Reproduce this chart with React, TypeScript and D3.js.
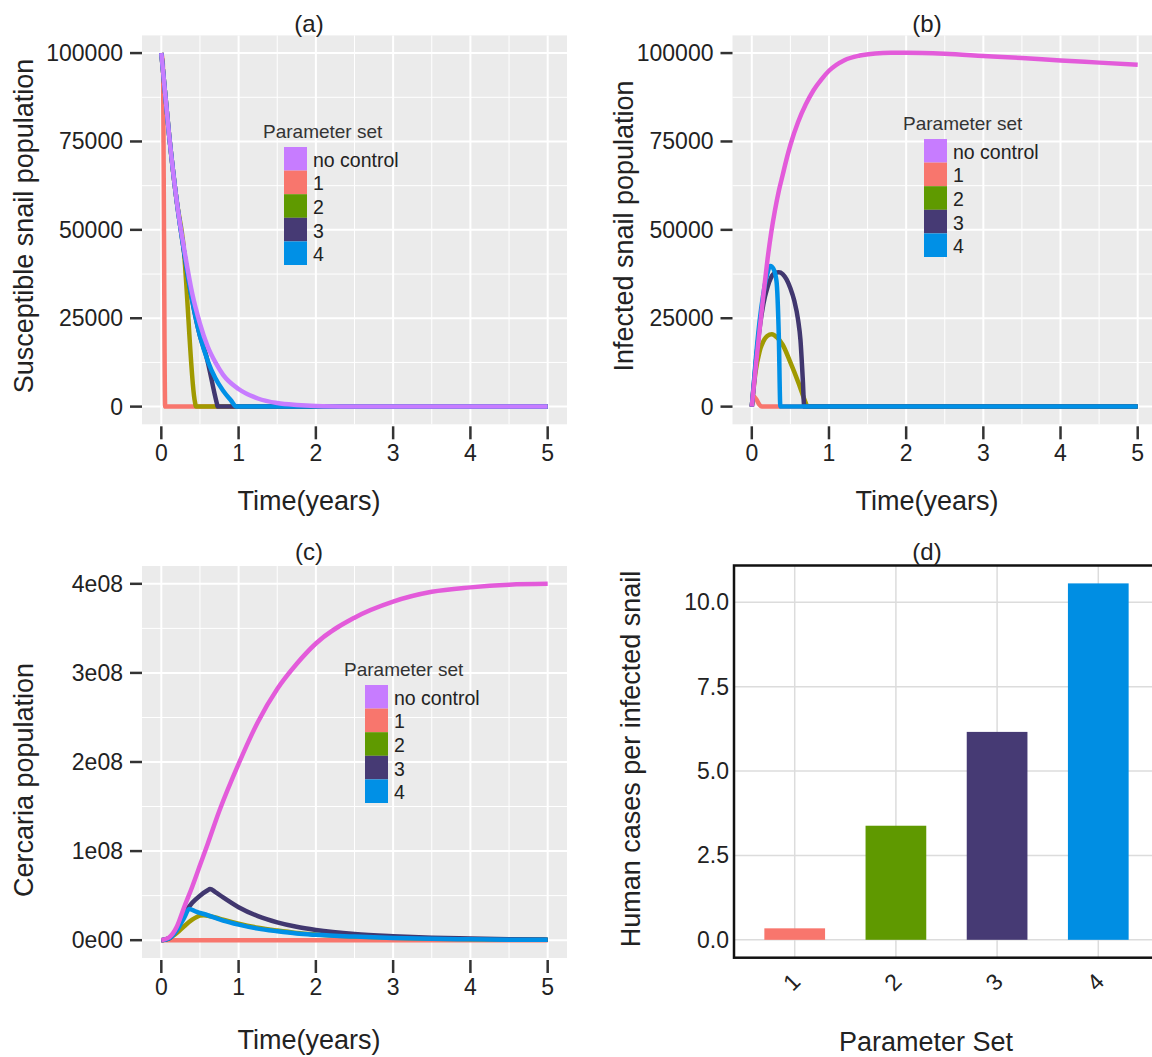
import * as d3 from "d3";

// ---- data ----
const legendLabels = ["no control", "1", "2", "3", "4"];
const legendColors = ["#C77CFF", "#F8766D", "#5F9A00", "#463A74", "#0090E6"];

const xTicks = [0, 1, 2, 3, 4, 5];
const snailTicks = [0, 25000, 50000, 75000, 100000];
const cercariaTicks = [0, 1e8, 2e8, 3e8, 4e8];
const cercariaTickLabels = ["0e00", "1e08", "2e08", "3e08", "4e08"];

// (a) susceptible snails: [time, value]
const aNoControl = [[0, 100000], [0.1, 77000], [0.2, 58000], [0.3, 44000], [0.4, 32000], [0.5, 23500], [0.6, 17000], [0.7, 12500], [0.8, 9000], [1.0, 5000], [1.25, 2300], [1.5, 1000], [1.75, 450], [2.0, 180], [2.5, 40], [3, 0], [5, 0]];
const aSet1 = [[0, 100000], [0.02, 97000], [0.05, 0], [5, 0]];
const aSet2 = [[0, 100000], [0.1, 77000], [0.2, 58000], [0.28, 47000], [0.43, 2000], [0.45, 0], [5, 0]];
const aSet3 = [[0, 100000], [0.1, 77000], [0.2, 58000], [0.3, 43000], [0.4, 30000], [0.5, 20000], [0.58, 14500], [0.72, 800], [0.73, 0], [5, 0]];
const aSet4 = [[0, 100000], [0.1, 77000], [0.2, 58000], [0.3, 43000], [0.4, 30000], [0.5, 20000], [0.6, 13000], [0.7, 8000], [0.8, 4500], [0.9, 1800], [0.97, 0], [5, 0]];

// (b) infected snails
const bNoControl = [[0, 0], [0.05, 11000], [0.1, 21500], [0.15, 31500], [0.2, 41000], [0.25, 49000], [0.3, 55500], [0.35, 61000], [0.4, 65500], [0.45, 70000], [0.5, 74000], [0.6, 80500], [0.7, 85500], [0.8, 89500], [0.9, 92500], [1.0, 95000], [1.2, 98000], [1.4, 99300], [1.6, 99900], [1.8, 100100], [2.0, 100100], [2.5, 99800], [3, 99200], [3.5, 98600], [4, 97900], [4.5, 97300], [5, 96700]];
const bSet1 = [[0, 0], [0.03, 2800], [0.06, 2000], [0.1, 500], [0.13, 0], [5, 0]];
const bSet2 = [[0, 0], [0.05, 10000], [0.1, 15500], [0.15, 18500], [0.2, 20000], [0.26, 20500], [0.33, 19500], [0.4, 17500], [0.5, 12500], [0.6, 7000], [0.7, 1000], [0.72, 0], [5, 0]];
const bSet3 = [[0, 0], [0.05, 12000], [0.1, 22000], [0.15, 29000], [0.2, 33500], [0.25, 36500], [0.3, 37800], [0.35, 38000], [0.4, 37500], [0.45, 36000], [0.5, 33500], [0.55, 30000], [0.6, 24500], [0.63, 19000], [0.66, 8000], [0.68, 0], [5, 0]];
const bSet4 = [[0, 0], [0.05, 13000], [0.1, 24000], [0.15, 32000], [0.2, 37500], [0.24, 39800], [0.28, 39000], [0.32, 35500], [0.35, 20000], [0.37, 0], [5, 0]];

// (c) cercaria
const cNoControl = [[0, 0], [0.1, 3e6], [0.2, 1.5e7], [0.3, 3.8e7], [0.4, 6e7], [0.5, 8.4e7], [0.6, 1.08e8], [0.75, 1.45e8], [1.0, 1.98e8], [1.25, 2.45e8], [1.5, 2.82e8], [1.75, 3.1e8], [2.0, 3.33e8], [2.5, 3.62e8], [3, 3.8e8], [3.5, 3.91e8], [4, 3.96e8], [4.5, 3.99e8], [5, 4.0e8]];
const cSet1 = [[0, 0], [5, 0]];
const cSet2 = [[0, 0], [0.1, 2e6], [0.2, 8e6], [0.3, 1.6e7], [0.4, 2.3e7], [0.5, 2.75e7], [0.55, 2.8e7], [0.7, 2.55e7], [0.8, 2.3e7], [1.0, 1.85e7], [1.25, 1.4e7], [1.5, 1.08e7], [1.75, 8.2e6], [2, 6.5e6], [2.5, 4.2e6], [3, 2.7e6], [3.5, 1.7e6], [4, 1.1e6], [4.5, 7e5], [5, 4e5]];
const cSet3 = [[0, 0], [0.1, 2e6], [0.2, 1.2e7], [0.3, 3e7], [0.4, 4.2e7], [0.5, 5e7], [0.6, 5.6e7], [0.63, 5.75e7], [0.7, 5.4e7], [0.8, 4.8e7], [1.0, 3.7e7], [1.25, 2.7e7], [1.5, 2e7], [1.75, 1.5e7], [2.0, 1.15e7], [2.5, 7e6], [3, 4.5e6], [3.5, 2.8e6], [4, 1.8e6], [4.5, 1e6], [5, 6e5]];
const cSet4 = [[0, 0], [0.1, 2e6], [0.2, 1.1e7], [0.3, 2.6e7], [0.36, 3.5e7], [0.45, 3.2e7], [0.6, 2.8e7], [0.8, 2.2e7], [1.0, 1.75e7], [1.25, 1.3e7], [1.5, 1e7], [1.75, 7.5e6], [2, 6e6], [2.5, 4e6], [3, 2.5e6], [3.5, 1.6e6], [4, 1e6], [4.5, 6e5], [5, 4e5]];

// (d) human cases per infected snail
const barSets = ["1", "2", "3", "4"];
const barValues = [0.34, 3.38, 6.16, 10.56];
const barColors = ["#F8766D", "#5F9900", "#463A74", "#008EE3"];
const barTicks = [0, 2.5, 5, 7.5, 10];

const FONT = "Liberation Sans, Arial, sans-serif";
const TXT = "#222";

function LinePanel({ x0, x1, y0, y1, yDomain, yTicks, yLabels, series, colors, title, titleX, titleY, yTitle, yTitleX, yTitleY, xTitleY, tickLabelY, legend }) {
  const x = d3.scaleLinear().domain([-0.25, 5.25]).range([x0, x1]);
  const y = d3.scaleLinear().domain(yDomain).range([y1, y0]);
  const line = d3.line().x((d) => x(d[0])).y((d) => y(d[1])).curve(d3.curveMonotoneX);
  const minorX = d3.range(0.5, 5, 1);
  const step = yTicks[1] - yTicks[0];
  const minorY = yTicks.slice(0, -1).map((t) => t + step / 2).concat([yTicks[yTicks.length - 1] + step / 2]).filter((t) => t <= yDomain[1]);
  // draw order: 1,2,3,4 then no control on top
  const order = [1, 2, 3, 4, 0];
  const clipId = "clip" + title.replace(/[()]/g, "");
  return (
    <g>
      <defs>
        <clipPath id={clipId}>
          <rect x={x0} y={y0} width={x1 - x0} height={y1 - y0} />
        </clipPath>
      </defs>
      <rect x={x0} y={y0} width={x1 - x0} height={y1 - y0} fill="#EBEBEB" />
      {minorX.map((t) => (
        <line key={"mx" + t} x1={x(t)} x2={x(t)} y1={y0} y2={y1} stroke="#fff" strokeWidth={1} />
      ))}
      {minorY.map((t) => (
        <line key={"my" + t} x1={x0} x2={x1} y1={y(t)} y2={y(t)} stroke="#fff" strokeWidth={1} />
      ))}
      {xTicks.map((t) => (
        <line key={"gx" + t} x1={x(t)} x2={x(t)} y1={y0} y2={y1} stroke="#fff" strokeWidth={2} />
      ))}
      {yTicks.map((t) => (
        <line key={"gy" + t} x1={x0} x2={x1} y1={y(t)} y2={y(t)} stroke="#fff" strokeWidth={2} />
      ))}
      <g clipPath={`url(#${clipId})`}>
        {order.map((i) => (
          <path key={"s" + i} d={line(series[i])} fill="none" stroke={colors[i]} strokeWidth={4.5} strokeLinejoin="round" />
        ))}
      </g>
      {yTicks.map((t, i) => (
        <g key={"yt" + t}>
          <line x1={x0 - 12} x2={x0} y1={y(t)} y2={y(t)} stroke="#333" strokeWidth={2.5} />
          <text x={x0 - 19} y={y(t)} textAnchor="end" dominantBaseline="central" fontSize={23} fill={TXT} fontFamily={FONT}>
            {yLabels[i]}
          </text>
        </g>
      ))}
      {xTicks.map((t) => (
        <g key={"xt" + t}>
          <line x1={x(t)} x2={x(t)} y1={y1 + 2} y2={y1 + 15} stroke="#333" strokeWidth={2.5} />
          <text x={x(t)} y={tickLabelY} textAnchor="middle" dominantBaseline="central" fontSize={23} fill={TXT} fontFamily={FONT}>
            {t}
          </text>
        </g>
      ))}
      <text x={titleX} y={titleY} textAnchor="middle" dominantBaseline="central" fontSize={24} fill={TXT} fontFamily={FONT}>
        {title}
      </text>
      <text x={titleX} y={xTitleY} textAnchor="middle" dominantBaseline="central" fontSize={27} fill={TXT} fontFamily={FONT}>
        Time(years)
      </text>
      <text transform={`translate(${yTitleX},${yTitleY}) rotate(-90)`} textAnchor="middle" dominantBaseline="central" fontSize={27} fill={TXT} fontFamily={FONT}>
        {yTitle}
      </text>
      <Legend x={legend[0]} y={legend[1]} />
    </g>
  );
}

function Legend({ x, y }) {
  const kh = 23.6;
  return (
    <g>
      <text x={x} y={y} dominantBaseline="central" fontSize={19} fill="#333" fontFamily={FONT}>
        Parameter set
      </text>
      {legendLabels.map((lab, i) => (
        <g key={lab}>
          <rect x={x + 21} y={y + 16 + i * kh} width={23} height={kh} fill={legendColors[i]} />
          <text x={x + 50} y={y + 16 + i * kh + kh / 2 + 1} dominantBaseline="central" fontSize={19.5} fill={TXT} fontFamily={FONT}>
            {lab}
          </text>
        </g>
      ))}
    </g>
  );
}

function BarPanel() {
  const x0 = 734, x1 = 1159, y0 = 565.5, y1 = 957.7;
  const x = d3.scalePoint().domain(barSets).range([x0, x1]).padding(0.6);
  const bw = x.step() * 0.6;
  const y = d3.scaleLinear().domain([-0.53, 11.09]).range([y1, y0]);
  return (
    <g>
      <rect x={x0} y={y0} width={x1 - x0} height={y1 - y0} fill="#fff" />
      {barSets.map((s) => (
        <line key={"gx" + s} x1={x(s)} x2={x(s)} y1={y0} y2={y1} stroke="#DCDCDC" strokeWidth={1.5} />
      ))}
      {barTicks.map((t) => (
        <line key={"gy" + t} x1={x0} x2={x1} y1={y(t)} y2={y(t)} stroke="#DCDCDC" strokeWidth={1.5} />
      ))}
      {barSets.map((s, i) => (
        <rect key={"b" + s} x={x(s) - bw / 2} y={y(barValues[i])} width={bw} height={y(0) - y(barValues[i])} fill={barColors[i]} />
      ))}
      <rect x={x0} y={y0} width={x1 - x0} height={y1 - y0} fill="none" stroke="#111" strokeWidth={2.5} />
      {barTicks.map((t) => (
        <text key={"yl" + t} x={x0 - 5} y={y(t)} textAnchor="end" dominantBaseline="central" fontSize={23} fill={TXT} fontFamily={FONT}>
          {t.toFixed(1)}
        </text>
      ))}
      {barSets.map((s) => (
        <text key={"xl" + s} transform={`translate(${x(s) - 3},${982}) rotate(-45)`} textAnchor="middle" dominantBaseline="central" fontSize={23} fill={TXT} fontFamily={FONT}>
          {s}
        </text>
      ))}
      <text x={927} y={551} textAnchor="middle" dominantBaseline="central" fontSize={24} fill={TXT} fontFamily={FONT}>
        (d)
      </text>
      <text x={926} y={1042} textAnchor="middle" dominantBaseline="central" fontSize={27} fill={TXT} fontFamily={FONT}>
        Parameter Set
      </text>
      <text transform={`translate(631,759) rotate(-90)`} textAnchor="middle" dominantBaseline="central" fontSize={27} fill={TXT} fontFamily={FONT}>
        Human cases per infected snail
      </text>
    </g>
  );
}

const colorsA = ["#C77CFF", "#F8766D", "#A09A00", "#41376F", "#0090E6"];
const colorsBC = ["#E35BDA", "#F8766D", "#A09A00", "#41376F", "#0090E6"];

export default function App() {
  const snailLabels = snailTicks.map((t) => String(t));
  return (
    <>
      <style>{`body{margin:0;background:#fff}`}</style>
      <svg width={1152} height={1057} style={{ display: "block", background: "#fff" }}>
        <LinePanel
          x0={142} x1={567} y0={35.4} y1={424.3}
          yDomain={[-5000, 105000]} yTicks={snailTicks} yLabels={snailLabels}
          series={[aNoControl, aSet1, aSet2, aSet3, aSet4]} colors={colorsA}
          title="(a)" titleX={309} titleY={23}
          yTitle="Susceptible snail population" yTitleX={24} yTitleY={226}
          xTitleY={501} tickLabelY={453} legend={[263, 131]}
        />
        <LinePanel
          x0={732.5} x1={1157} y0={35.4} y1={424.3}
          yDomain={[-5000, 105000]} yTicks={snailTicks} yLabels={snailLabels}
          series={[bNoControl, bSet1, bSet2, bSet3, bSet4]} colors={colorsBC}
          title="(b)" titleX={927} titleY={23}
          yTitle="Infected snail population" yTitleX={624} yTitleY={226}
          xTitleY={501} tickLabelY={453} legend={[903, 123]}
        />
        <LinePanel
          x0={142} x1={567} y0={566} y1={958}
          yDomain={[-2e7, 4.2e8]} yTicks={cercariaTicks} yLabels={cercariaTickLabels}
          series={[cNoControl, cSet1, cSet2, cSet3, cSet4]} colors={colorsBC}
          title="(c)" titleX={309} titleY={551}
          yTitle="Cercaria population" yTitleX={24} yTitleY={780}
          xTitleY={1040} tickLabelY={987} legend={[344, 669]}
        />
        <BarPanel />
      </svg>
    </>
  );
}
